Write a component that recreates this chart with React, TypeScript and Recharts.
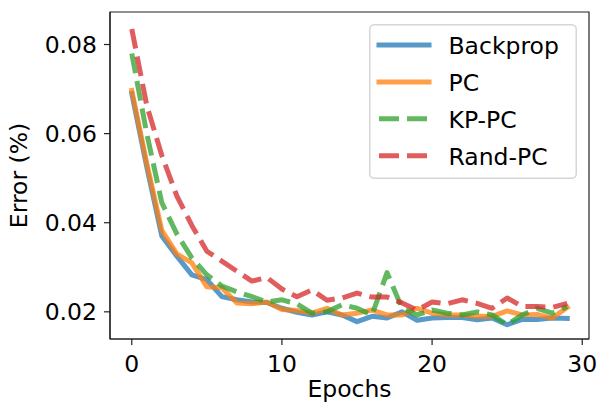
import React from 'react';
import { LineChart, Line, XAxis, YAxis, Legend, ReferenceArea } from 'recharts';

const epochs = [0, 1, 2, 3, 4, 5, 6, 7, 8, 9, 10, 11, 12, 13, 14, 15, 16, 17, 18, 19, 20, 21, 22, 23, 24, 25, 26, 27, 28, 29];

const backprop = [0.069, 0.0525, 0.037, 0.0325, 0.0283, 0.0272, 0.0234, 0.0227, 0.0222, 0.0221, 0.0208, 0.0199, 0.0193, 0.02, 0.0193, 0.0178, 0.019, 0.0186, 0.02, 0.0181, 0.0186, 0.0187, 0.0187, 0.0182, 0.0186, 0.0171, 0.0183, 0.0183, 0.0186, 0.0185];

const pc = [0.0697, 0.0533, 0.0383, 0.033, 0.031, 0.0256, 0.0254, 0.022, 0.0218, 0.0222, 0.0205, 0.0203, 0.0197, 0.0208, 0.0193, 0.0197, 0.0204, 0.0193, 0.0193, 0.0208, 0.0197, 0.0193, 0.0193, 0.019, 0.019, 0.0202, 0.0193, 0.0194, 0.0186, 0.021];

const kpPc = [0.078, 0.06, 0.0445, 0.0375, 0.0321, 0.0283, 0.0258, 0.0245, 0.0234, 0.0222, 0.0227, 0.0218, 0.0197, 0.02, 0.0216, 0.0208, 0.0193, 0.0288, 0.0208, 0.0193, 0.0204, 0.0197, 0.0193, 0.02, 0.0193, 0.0171, 0.0193, 0.0208, 0.0197, 0.0212];

const randPc = [0.0835, 0.0663, 0.0551, 0.046, 0.0394, 0.0336, 0.0314, 0.0291, 0.0269, 0.0277, 0.0251, 0.0234, 0.0249, 0.0226, 0.0231, 0.0242, 0.0233, 0.0233, 0.022, 0.0204, 0.0222, 0.0218, 0.0227, 0.0219, 0.0208, 0.0231, 0.0212, 0.0212, 0.021, 0.0219];

const xTicks = [0, 10, 20, 30];
const yTicks = [0.02, 0.04, 0.06, 0.08];
const xDomain = [-1.45, 30.45];
const yDomain = [0.0139, 0.0873];

const series = [
  { key: 'backprop', name: 'Backprop', color: '#1f77b4', dash: undefined as string | undefined },
  { key: 'pc', name: 'PC', color: '#ff7f0e', dash: undefined as string | undefined },
  { key: 'kpPc', name: 'KP-PC', color: '#2ca02c', dash: '20 8' },
  { key: 'randPc', name: 'Rand-PC', color: '#d62728', dash: '20 8' },
];

const data = epochs.map((e, i) => ({
  epoch: e,
  backprop: backprop[i],
  pc: pc[i],
  kpPc: kpPc[i],
  randPc: randPc[i],
}));

const FONT = '"DejaVu Sans", Verdana, sans-serif';
const FS = 23.5;
const AXIS = '#222';
const ALPHA = 0.75;

const LegendBox = () => (
  <svg width={208} height={155} style={{ display: 'block' }}>
    <rect x={0.75} y={0.75} width={206.5} height={153.5} rx={4.5} fill="#fff" stroke="#d6d6d6" strokeWidth={1.5} />
    {series.map((s, i) => {
      const cy = 21 + i * 36.9;
      return (
        <g key={s.key}>
          <line
            x1={10}
            x2={60}
            y1={cy}
            y2={cy}
            stroke={s.color}
            strokeOpacity={ALPHA}
            strokeWidth={5}
            strokeDasharray={s.dash}
            strokeLinecap={s.dash ? 'butt' : 'square'}
          />
          <text x={79.5} y={cy + 9} fontSize={FS} fontFamily={FONT} fill="#000">
            {s.name}
          </text>
        </g>
      );
    })}
  </svg>
);

const YLabel = (props: any) => {
  const vb = props.viewBox || { x: 0, y: 12, width: 110, height: 327 };
  const cx = vb.x + 27;
  const cy = vb.y + vb.height / 2;
  return (
    <text x={cx} y={cy} transform={`rotate(-90, ${cx}, ${cy})`} textAnchor="middle" fontSize={FS} fontFamily={FONT} fill="#000">
      Error (%)
    </text>
  );
};

const XLabel = (props: any) => {
  const vb = props.viewBox || { x: 110, y: 339, width: 479, height: 67 };
  return (
    <text x={vb.x + vb.width / 2} y={vb.y + 58} textAnchor="middle" fontSize={FS} fontFamily={FONT} fill="#000">
      Epochs
    </text>
  );
};

export default function App() {
  const tickStyle = { fontSize: FS, fontFamily: FONT, fill: '#000' };
  return (
    <div style={{ position: 'absolute', left: 0, top: 0, width: 598, height: 406, background: '#fff' }}>
      <LineChart width={598} height={406} data={data} margin={{ top: 12, right: 9, bottom: 0, left: 0 }}>
        <XAxis
          dataKey="epoch"
          type="number"
          domain={xDomain}
          ticks={xTicks}
          allowDataOverflow
          height={67}
          tick={tickStyle}
          tickSize={6}
          tickMargin={10}
          axisLine={{ stroke: AXIS, strokeWidth: 1.2 }}
          tickLine={{ stroke: AXIS, strokeWidth: 1.2 }}
          interval={0}
          label={<XLabel />}
        />
        <YAxis
          type="number"
          domain={yDomain}
          ticks={yTicks}
          allowDataOverflow
          width={110}
          tick={tickStyle}
          tickSize={6}
          tickMargin={7}
          tickFormatter={(v: number) => v.toFixed(2)}
          axisLine={{ stroke: AXIS, strokeWidth: 1.2 }}
          tickLine={{ stroke: AXIS, strokeWidth: 1.2 }}
          interval={0}
          label={<YLabel />}
        />
        <ReferenceArea
          x1={xDomain[0]}
          x2={xDomain[1]}
          y1={yDomain[0]}
          y2={yDomain[1]}
          fill="none"
          fillOpacity={0}
          stroke={AXIS}
          strokeWidth={1.2}
          ifOverflow="visible"
        />
        {series.map((s) => (
          <Line
            key={s.key}
            type="linear"
            dataKey={s.key}
            name={s.name}
            stroke={s.color}
            strokeOpacity={ALPHA}
            strokeWidth={5}
            strokeDasharray={s.dash}
            strokeLinejoin="round"
            strokeLinecap={s.dash ? 'butt' : 'square'}
            dot={false}
            activeDot={false}
            isAnimationActive={false}
          />
        ))}
        <Legend
          layout="vertical"
          align="center"
          verticalAlign="middle"
          content={() => <LegendBox />}
          wrapperStyle={{ position: 'absolute', left: 369, top: 24, width: 208, height: 155 }}
        />
      </LineChart>
    </div>
  );
}
